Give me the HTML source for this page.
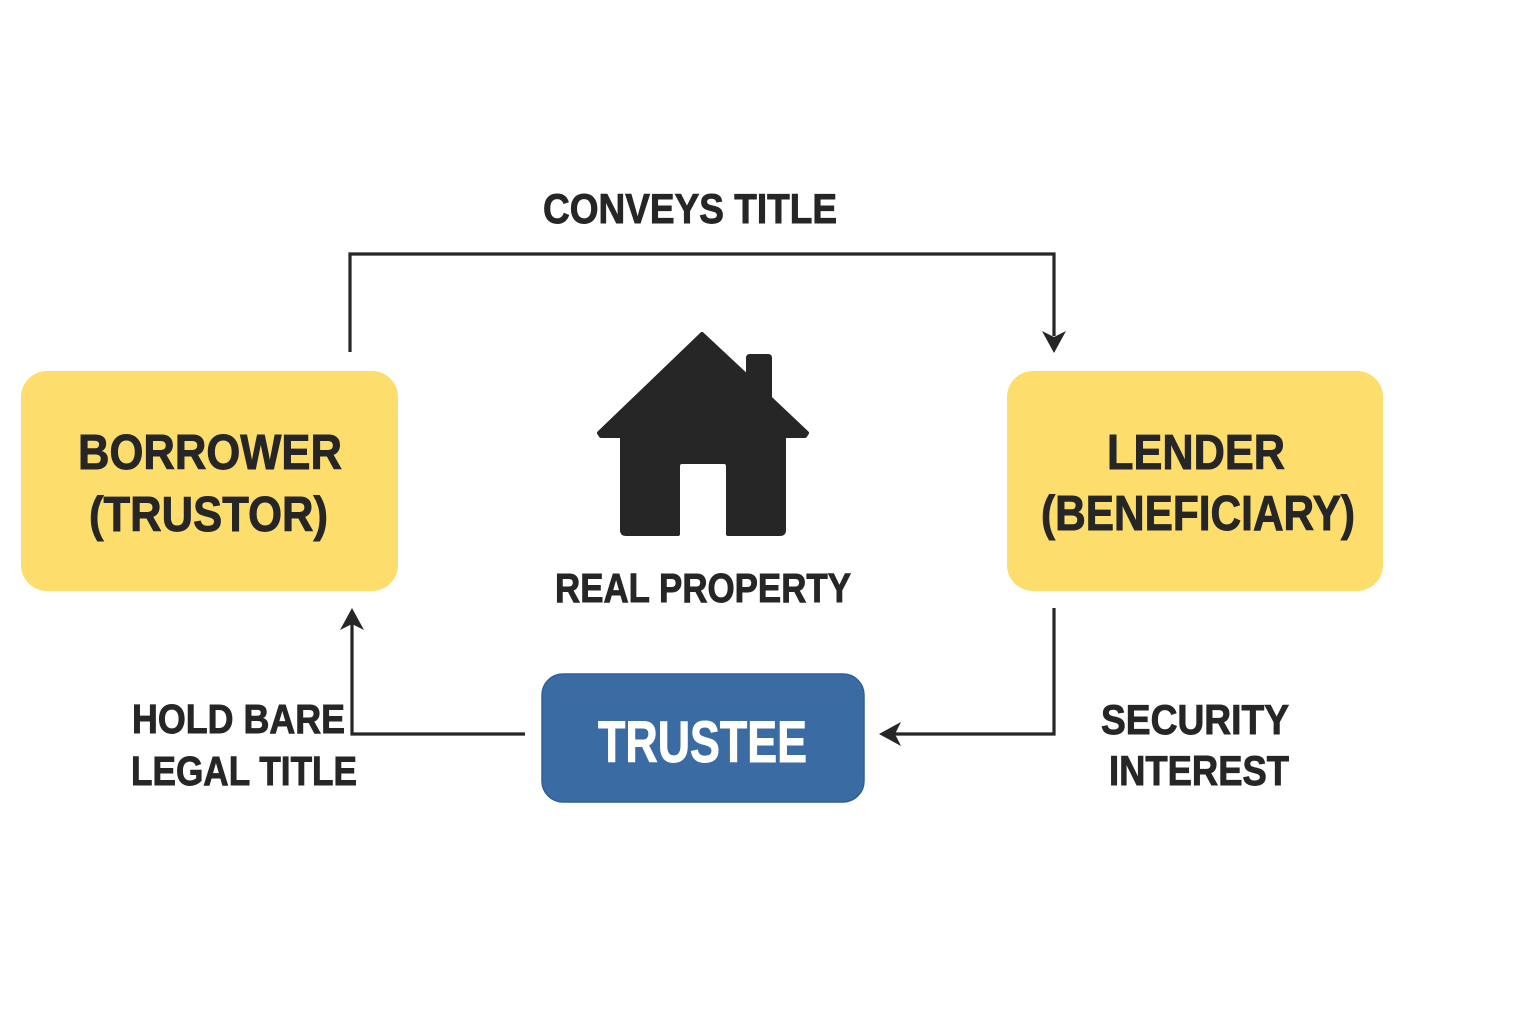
<!DOCTYPE html>
<html>
<head>
<meta charset="utf-8">
<style>
  html,body{margin:0;padding:0;background:#ffffff;}
  body{width:1536px;height:1024px;overflow:hidden;}
  svg{display:block;}
  text{font-family:"Liberation Sans","DejaVu Sans",sans-serif;font-weight:bold;fill:#262626;stroke:#262626;stroke-width:0.9;}
</style>
</head>
<body>
<svg width="1536" height="1024" viewBox="0 0 1536 1024" xmlns="http://www.w3.org/2000/svg">
  <rect x="0" y="0" width="1536" height="1024" fill="#ffffff"/>

  <!-- Connectors -->
  <g fill="none" stroke="#262626" stroke-width="3.2" stroke-linejoin="miter">
    <polyline points="350,352 350,254 1054,254 1054,336"/>
    <polyline points="1054,608 1054,734 894,734"/>
    <polyline points="525,734 352,734 352,624"/>
  </g>
  <g fill="#262626">
    <polygon points="1054,353 1042,331 1054,337 1066,331"/>
    <polygon points="879,734 901,722 895,734 901,746"/>
    <polygon points="352,608 340,630 352,624 364,630"/>
  </g>

  <!-- Borrower box -->
  <rect x="21" y="371" width="377" height="220" rx="26" ry="26" fill="#FDDD6B"/>
  <text x="78" y="469" font-size="49" textLength="264" lengthAdjust="spacingAndGlyphs">BORROWER</text>
  <text x="89" y="531" font-size="49" textLength="239" lengthAdjust="spacingAndGlyphs">(TRUSTOR)</text>

  <!-- Lender box -->
  <rect x="1007" y="371" width="376" height="220" rx="26" ry="26" fill="#FDDD6B"/>
  <text x="1107" y="469" font-size="49" textLength="178" lengthAdjust="spacingAndGlyphs">LENDER</text>
  <text x="1041" y="530" font-size="49" textLength="314" lengthAdjust="spacingAndGlyphs">(BENEFICIARY)</text>

  <!-- Trustee box -->
  <rect x="542" y="674" width="322" height="128" rx="21" ry="21" fill="#3A6BA3" stroke="#2E5E9C" stroke-width="1.5"/>
  <text x="598" y="762" font-size="58" textLength="209" lengthAdjust="spacingAndGlyphs" style="fill:#ffffff;stroke:#ffffff;stroke-width:1">TRUSTEE</text>

  <!-- House -->
  <path d="M702,334 L748,377 L748,358 Q748,356 750,356 L768,356 Q770,356 770,358 L770,398 L807,433 L805,436 L784,436 L784,530 Q784,534 780,534 L728,534 L728,466 Q728,462 724,462 L682,462 Q678,462 678,466 L678,534 L626,534 Q622,534 622,530 L622,436 L601,436 L599,433 Z"
        fill="#262626" stroke="#262626" stroke-width="4" stroke-linejoin="round"/>

  <!-- Labels -->
  <text x="543" y="223" font-size="42" textLength="294" lengthAdjust="spacingAndGlyphs">CONVEYS TITLE</text>
  <text x="555" y="602" font-size="41" textLength="296" lengthAdjust="spacingAndGlyphs">REAL PROPERTY</text>
  <text x="132" y="733" font-size="41" textLength="213" lengthAdjust="spacingAndGlyphs">HOLD BARE</text>
  <text x="131" y="785" font-size="41" textLength="226" lengthAdjust="spacingAndGlyphs">LEGAL TITLE</text>
  <text x="1101" y="734" font-size="42" textLength="188" lengthAdjust="spacingAndGlyphs">SECURITY</text>
  <text x="1109" y="785" font-size="42" textLength="180" lengthAdjust="spacingAndGlyphs">INTEREST</text>
</svg>
</body>
</html>
